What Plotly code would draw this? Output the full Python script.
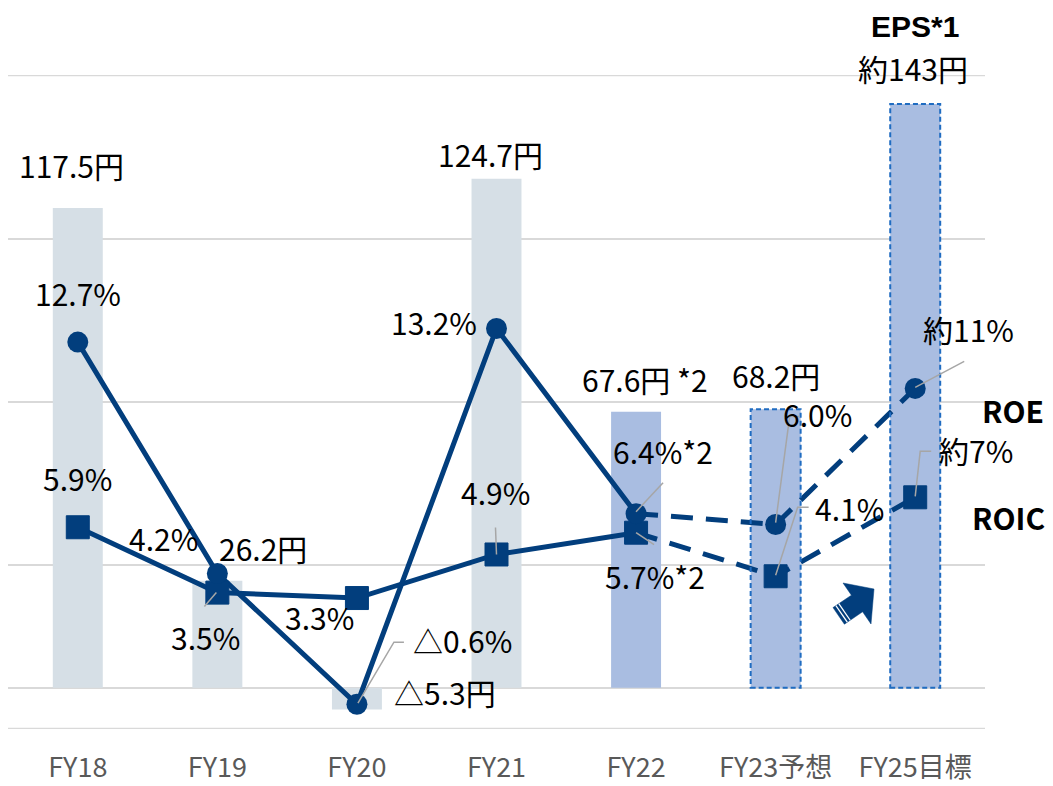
import plotly.graph_objects as go

# ---------------- data ----------------
categories = ["FY18", "FY19", "FY20", "FY21", "FY22", "FY23予想", "FY25目標"]
eps = [117.5, 26.2, -5.3, 124.7, 67.6, 68.2, 143]
eps_labels = ["117.5円", "26.2円", "△5.3円", "124.7円", "67.6円 *2", "68.2円", "約143円"]
roe = [12.7, 4.2, -0.6, 13.2, 6.4, 6.0, 11]
roe_labels = ["12.7%", "4.2%", "△0.6%", "13.2%", "6.4%*2", "6.0%", "約11%"]
roic = [5.9, 3.5, 3.3, 4.9, 5.7, 4.1, 7]
roic_labels = ["5.9%", "3.5%", "3.3%", "4.9%", "5.7%*2", "4.1%", "約7%"]
n_actual = 5  # FY18..FY22 solid, rest dashed (plans)
eps_axis = (-10, 150, 40)  # min, max, gridline step

# ---------------- styles ----------------
NAVY = "#023E7D"
LIGHT = "#D6DFE6"
BLUE = "#A9BDE1"
BORDER = "#1F6CC1"
GRID = "#D9D9D9"
FONT = "Noto Sans CJK JP"
BOLD_FONT = "Liberation Sans"
LBL = 30
BAR_W = 0.358

# page offset of 8px (body margin) is accounted for: figure is 1045x778
FIG_W, FIG_H = 1045, 778
L, R, T, B = 0, 977, 67, 721

x = list(range(len(categories)))
bar_colors = [LIGHT] * 4 + [BLUE] * 3

fig = go.Figure()
fig.add_trace(go.Bar(x=x, y=eps, width=BAR_W, marker=dict(color=bar_colors, line=dict(width=0)),
                     yaxis="y", showlegend=False, hoverinfo="skip"))

dash = "22px,13px"
LW = 5
fig.add_trace(go.Scatter(x=x[:n_actual], y=roic[:n_actual], mode="lines", line=dict(color=NAVY, width=LW),
                         yaxis="y2", showlegend=False))
fig.add_trace(go.Scatter(x=x[:n_actual], y=roe[:n_actual], mode="lines", line=dict(color=NAVY, width=LW),
                         yaxis="y2", showlegend=False))
fig.add_trace(go.Scatter(x=x[n_actual - 1:], y=roic[n_actual - 1:], mode="lines",
                         line=dict(color=NAVY, width=LW, dash=dash), yaxis="y2", showlegend=False))
fig.add_trace(go.Scatter(x=x[n_actual - 1:], y=roe[n_actual - 1:], mode="lines",
                         line=dict(color=NAVY, width=LW, dash=dash), yaxis="y2", showlegend=False))
fig.add_trace(go.Scatter(x=x, y=roic, mode="markers",
                         marker=dict(symbol="square", size=23, color=NAVY, line=dict(color=NAVY, width=1)),
                         yaxis="y2", showlegend=False))
fig.add_trace(go.Scatter(x=x, y=roe, mode="markers",
                         marker=dict(symbol="circle", size=21, color=NAVY, line=dict(width=0)),
                         yaxis="y2", showlegend=False))

# ---------------- labels ----------------
eps_off = [(-6, 43), (46, 33), (88, 17), (-6, 25), (9, 33), (0, 34), (-2, 36)]
roe_off = [(0, 49), (-54, 36), (106, 64), (-63, 6), (27, 63), (42, 111), (53, 59)]
roic_off = [(0, 49), (-12, -44), (-37, -19), (-1, 62), (19, -43), (74, 68), (61, 47)]

annotations = []
for i in x:
    annotations.append(dict(x=i, y=eps[i], yref="y", xref="x", text=eps_labels[i], showarrow=False,
                            xshift=eps_off[i][0], yshift=eps_off[i][1],
                            font=dict(family=FONT, size=LBL, color="#000")))
    annotations.append(dict(x=i, y=roe[i], yref="y2", xref="x", text=roe_labels[i], showarrow=False,
                            xshift=roe_off[i][0], yshift=roe_off[i][1],
                            font=dict(family=FONT, size=LBL, color="#000")))
    annotations.append(dict(x=i, y=roic[i], yref="y2", xref="x", text=roic_labels[i], showarrow=False,
                            xshift=roic_off[i][0], yshift=roic_off[i][1],
                            font=dict(family=FONT, size=LBL, color="#000")))
# EPS*1 heading above FY25 bar
annotations.append(dict(x=6, y=eps[6], yref="y", xref="x", text="<b>EPS*1</b>", showarrow=False,
                        xshift=0, yshift=77, borderpad=0, font=dict(family=BOLD_FONT, size=30, color="#000")))
# series names at right
annotations.append(dict(x=6, y=roe[6], yref="y2", xref="x", text="<b>ROE</b>", showarrow=False,
                        xshift=98, yshift=-22, font=dict(family=FONT, size=30, color="#000")))
annotations.append(dict(x=6, y=roic[6], yref="y2", xref="x", text="<b>ROIC</b>", showarrow=False,
                        xshift=93, yshift=-20, font=dict(family=FONT, size=30, color="#000")))

# ---------------- shapes ----------------
shapes = []
# outer gridlines at axis limits
for gv in (eps_axis[0], eps_axis[1]):
    shapes.append(dict(type="line", xref="paper", yref="y", x0=0, x1=1, y0=gv, y1=gv,
                       line=dict(color=GRID, width=1.6), layer="below"))
# dashed borders for plan bars
for i in (5, 6):
    shapes.append(dict(type="rect", xref="x", yref="y", x0=i - BAR_W / 2, x1=i + BAR_W / 2, y0=0, y1=eps[i],
                       line=dict(color=BORDER, width=2, dash="5px,3px"), layer="above"))

# leader lines (pixel offsets from the labelled point)
leaders = [
    (2, roe[2], "M 1 1 L 37 62 L 47 62"),
    (4, roe[4], "M 0 2 L 27 31"),
    (4, roic[4], "M 0 0 L 18 -12"),
    (5, roe[5], "M 0 2 L 14 108 L 24 108"),
    (5, roic[5], "M 0 1 L 22 69 L 33 69"),
    (6, roe[6], "M 0 1 L 49 27"),
    (6, roic[6], "M 0 1 L 5 46 L 16 46"),
    (1, roic[1], "M -1 0 L -13 -14"),
    (3, roic[3], "M 0 0 L -1 27"),
]
for xi, yv, p in leaders:
    shapes.append(dict(type="path", xref="x", yref="y2", xsizemode="pixel", ysizemode="pixel",
                       xanchor=xi, yanchor=yv, path=p, line=dict(color="#A6A6A6", width=1.5), layer="above"))

# decorative up-right arrow (page pixel positions -> paper coords)
PL, PR, PT, PB = 8, 985, 75, 729
def px(v):
    return (v - PL) / (PR - PL)
def py(v):
    return (PB - v) / (PB - PT)
pts = [(833, 607.6), (851.4, 595.2), (843, 583), (874, 589), (871, 624), (862.6, 611.8), (844.4, 624.2)]
path = "M " + " L ".join(f"{px(a):.5f} {py(b):.5f}" for a, b in pts) + " Z"
shapes.append(dict(type="path", xref="paper", yref="paper", path=path, fillcolor=NAVY,
                   line=dict(color=NAVY, width=0.5), layer="above"))
for d in (3.5, 7):
    ox, oy = 0.826 * d, -0.564 * d
    shapes.append(dict(type="line", xref="paper", yref="paper",
                       x0=px(833 + ox), y0=py(607.6 + oy), x1=px(844.4 + ox), y1=py(624.2 + oy),
                       line=dict(color="white", width=1.3), layer="above"))

fig.update_layout(
    width=FIG_W, height=FIG_H,
    margin=dict(l=L, r=FIG_W - R, t=T, b=FIG_H - B, pad=0),
    paper_bgcolor="white", plot_bgcolor="white",
    barmode="overlay",
    xaxis=dict(range=[-0.5, 6.5], tickmode="array", tickvals=x, ticktext=categories,
               showgrid=False, zeroline=False, showline=False, ticks="",
               tickfont=dict(family=FONT, size=27, color="#595959"), ticklabelstandoff=20),
    yaxis=dict(range=[eps_axis[0] - 0.1, eps_axis[1] + 0.1], tick0=eps_axis[0], dtick=eps_axis[2],
               showgrid=True, gridcolor=GRID, gridwidth=1.6,
               zeroline=True, zerolinecolor=GRID, zerolinewidth=1.6, showticklabels=False, ticks=""),
    yaxis2=dict(range=[-1.5 - 0.0095, 22.5 + 0.0095], overlaying="y", showgrid=False, zeroline=False,
                showticklabels=False, ticks=""),
    annotations=annotations,
    shapes=shapes,
)

fig.write_html("out.html")
